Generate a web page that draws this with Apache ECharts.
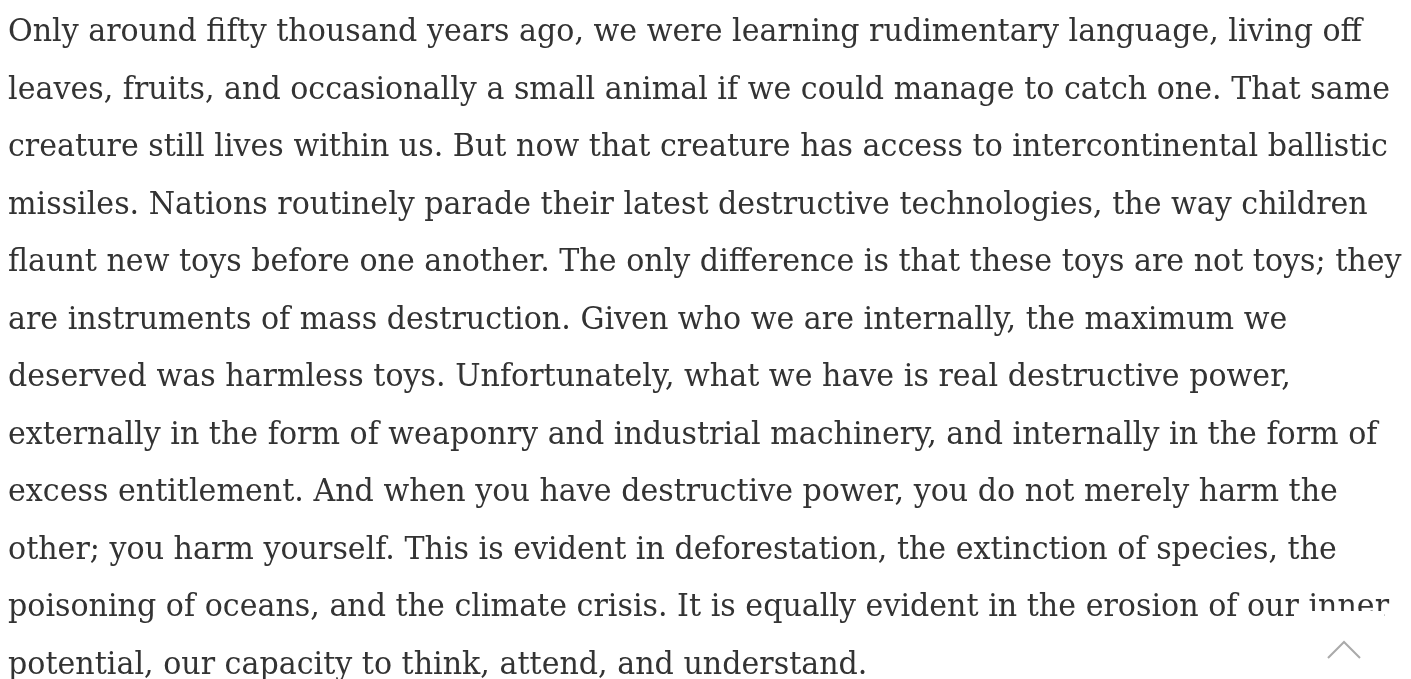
<!DOCTYPE html>
<html>
<head>
<meta charset="utf-8">
<script src="https://cdn.jsdelivr.net/npm/echarts@6/dist/echarts.min.js"></script>
<style>
html,body{margin:0;padding:0;background:#fff;}
#main{width:1411px;height:679px;}
</style>
</head>
<body>
<div id="main"></div>
<script>
const lines = [
  "Only around fifty thousand years ago, we were learning rudimentary language, living off",
  "leaves, fruits, and occasionally a small animal if we could manage to catch one. That same",
  "creature still lives within us. But now that creature has access to intercontinental ballistic",
  "missiles. Nations routinely parade their latest destructive technologies, the way children",
  "flaunt new toys before one another. The only difference is that these toys are not toys; they",
  "are instruments of mass destruction. Given who we are internally, the maximum we",
  "deserved was harmless toys. Unfortunately, what we have is real destructive power,",
  "externally in the form of weaponry and industrial machinery, and internally in the form of",
  "excess entitlement. And when you have destructive power, you do not merely harm the",
  "other; you harm yourself. This is evident in deforestation, the extinction of species, the",
  "poisoning of oceans, and the climate crisis. It is equally evident in the erosion of our inner",
  "potential, our capacity to think, attend, and understand."
];

const FONT_FAMILY = '"DejaVu Serif", serif';
const FONT_SIZE = 32;
const LINE_H = 57.5;
const FIRST_BASELINE = 42.5;
const LEFT = 8;
const FIRST_LINE_WIDTH = 1354;

const cv = document.createElement('canvas').getContext('2d');
cv.font = FONT_SIZE + 'px ' + FONT_FAMILY;
const sx = FIRST_LINE_WIDTH / cv.measureText(lines[0]).width;

const chart = echarts.init(document.getElementById('main'), null, {renderer: 'canvas'});
const elements = lines.map((t, i) => ({
  type: 'text',
  x: LEFT,
  y: FIRST_BASELINE + i * LINE_H - 9.5,
  scaleX: sx,
  style: {
    text: t,
    fill: '#333333',
    font: FONT_SIZE + 'px ' + FONT_FAMILY,
    verticalAlign: 'middle',
    align: 'left'
  }
}));
elements.push({
  type: 'rect',
  shape: {x: 1306, y: 611, width: 78, height: 68},
  style: {fill: '#ffffff'},
  z: 10
});
elements.push({
  type: 'polyline',
  shape: {points: [[1328, 658], [1344, 642], [1360, 658]]},
  style: {stroke: '#aaaaaa', lineWidth: 2, fill: null},
  z: 11
});
chart.setOption({
  animation: false,
  backgroundColor: '#ffffff',
  graphic: {elements: elements}
});
</script>
</body>
</html>
